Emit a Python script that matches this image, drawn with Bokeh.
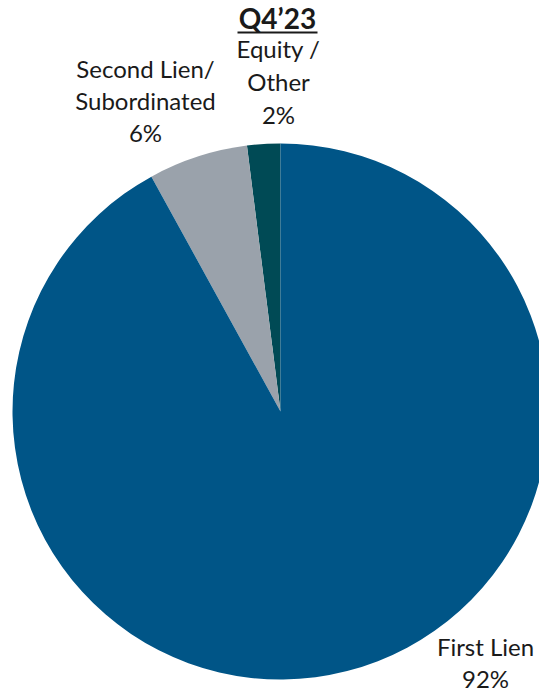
import math
from bokeh.plotting import figure
from bokeh.models import Range1d, ColumnDataSource
from bokeh.core.properties import value
from bokeh.embed import file_html
from bokeh.resources import INLINE

# ---- data ----
categories = ["Equity / Other", "Second Lien/ Subordinated", "First Lien"]
values = [2, 6, 92]
label_lines = [["Equity /", "Other", "2%"],
               ["Second Lien/", "Subordinated", "6%"],
               ["First Lien", "92%"]]
colors = ["#004A55", "#9AA2AB", "#005587"]
title_text = "Q4\u201923"

W, H = 539, 692
p = figure(width=W, height=H, output_backend="svg", toolbar_location=None,
           x_range=Range1d(0, W), y_range=Range1d(0, H), min_border=0)
p.axis.visible = False
p.grid.visible = False
p.outline_line_color = None
p.background_fill_color = "white"
p.border_fill_color = "white"

cx, cy, r = 280, H - 411, 268
total = sum(values)
starts, ends = [], []
a = math.pi / 2
for v in values:
    starts.append(a)
    a += 2 * math.pi * v / total
    ends.append(a)
src = ColumnDataSource(dict(start=starts, end=ends, color=colors, cat=categories))
p.wedge(x=cx, y=cy, radius=r, start_angle="start", end_angle="end",
        fill_color="color", line_color=None, source=src)

# labels
font = value("Lato")
fs = "24px"
positions = [(278, 48, 33), (145, 68, 32), (485, 646, 32)]
for lines, (x0, y0, dy) in zip(label_lines, positions):
    xs = [x0] * len(lines)
    ys = [H - (y0 + i * dy) for i in range(len(lines))]
    p.text(x=xs, y=ys, text=lines, text_align="center", text_baseline="middle",
           text_font=font, text_font_size=fs, text_color="#1a1a1a")

# title
p.text(x=[277], y=[H - 17], text=[title_text], text_align="center",
       text_baseline="middle", text_font=font, text_font_size="28px",
       text_font_style="bold", text_color="#1a1a1a")
p.segment(x0=[237], y0=[H - 32], x1=[317], y1=[H - 32], line_color="#1a1a1a", line_width=2)

open("out.html", "w").write(file_html(p, INLINE))
